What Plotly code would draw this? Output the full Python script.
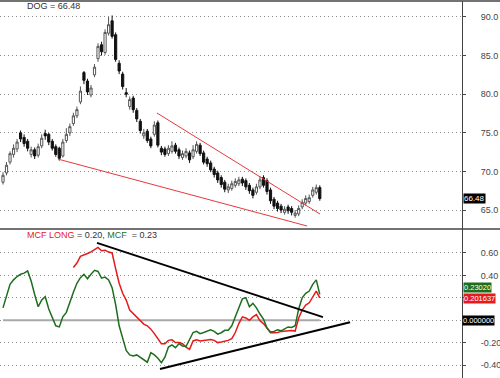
import plotly.graph_objects as go

# ---- price data (DOG) ----
opens = [68.6, 69.8, 71.2, 72.2, 72.9, 75.0, 74.4, 73.9, 72.2, 72.8,
         72.1, 73.3, 74.9, 74.8, 73.9, 73.2, 73.0, 72.0, 74.0, 75.0,
         76.2, 77.2, 79.0, 82.8, 81.7, 79.9, 82.5, 84.6, 86.4, 85.4,
         87.9, 89.5, 87.7, 84.0, 82.6, 80.2, 78.4, 79.5, 77.9, 76.5,
         74.6, 75.2, 74.2, 74.8, 76.3, 73.0, 72.9, 72.3, 72.6, 73.4,
         72.8, 71.8, 72.0, 72.4, 71.9, 72.6, 73.4, 72.4, 71.6, 71.1,
         70.3, 69.8, 69.2, 68.6, 67.6, 67.8, 68.2, 68.4, 69.0, 68.8,
         68.2, 67.6, 67.3, 68.0, 69.2, 68.8, 67.6, 66.4, 65.9, 65.5,
         64.7, 65.4, 65.2, 64.3, 64.5, 65.4, 65.9, 66.1, 66.9, 67.3, 67.9]
closes = [69.5, 70.8, 72.3, 73.0, 73.8, 74.2, 73.6, 73.0, 72.8, 72.0,
          73.2, 74.3, 74.6, 73.8, 73.0, 72.2, 71.7, 73.8, 74.8, 75.8,
          77.2, 78.0, 80.4, 81.8, 80.3, 80.8, 83.5, 86.2, 85.5, 88.0,
          89.0, 87.5, 84.5, 83.0, 81.0, 80.0, 79.3, 78.0, 76.8, 75.3,
          75.0, 74.0, 73.3, 76.0, 73.4, 72.5, 72.2, 73.0, 73.3, 72.6,
          72.0, 72.3, 72.6, 71.5, 72.8, 73.5, 72.3, 71.2, 71.0, 70.2,
          69.6, 68.9, 68.3, 67.7, 68.0, 68.4, 68.7, 68.9, 68.5, 68.0,
          67.5, 66.9, 68.0, 68.9, 68.2, 67.4, 66.2, 65.5, 65.2, 65.0,
          65.1, 64.9, 64.7, 64.6, 65.2, 66.0, 66.5, 66.6, 67.6, 67.9, 66.48]
highs = [69.9, 71.2, 72.6, 73.5, 74.2, 75.3, 74.8, 74.2, 73.2, 73.1,
         73.6, 74.8, 75.4, 75.0, 74.2, 73.5, 73.2, 74.2, 75.6, 76.2,
         77.6, 78.4, 81.0, 83.0, 82.0, 81.2, 83.9, 86.6, 86.8, 88.4,
         90.0, 90.2, 88.0, 84.4, 82.9, 80.8, 79.7, 79.8, 78.2, 76.8,
         75.5, 75.5, 74.5, 76.5, 76.6, 73.3, 73.2, 73.4, 73.9, 73.7,
         73.1, 72.7, 73.0, 72.7, 73.4, 73.9, 73.7, 72.7, 71.9, 71.4,
         70.6, 70.1, 69.5, 68.9, 68.4, 68.8, 69.1, 69.3, 69.3, 69.1,
         68.5, 67.9, 68.4, 69.4, 69.5, 69.1, 67.9, 66.7, 66.2, 65.8,
         65.5, 65.7, 65.5, 65.0, 65.6, 66.4, 66.9, 67.0, 68.0, 68.3, 68.2]
lows = [68.3, 69.5, 70.9, 71.8, 72.5, 73.8, 73.2, 72.6, 71.8, 71.6,
        71.8, 73.0, 74.1, 73.4, 72.7, 71.9, 71.4, 71.8, 73.7, 74.6,
        75.9, 76.9, 78.7, 81.3, 79.9, 79.6, 82.2, 84.2, 85.0, 85.1,
        87.6, 87.2, 84.2, 82.6, 80.6, 79.6, 78.0, 77.6, 76.4, 74.9,
        74.2, 73.7, 73.0, 74.5, 73.1, 72.1, 71.9, 72.0, 72.3, 72.3,
        71.6, 71.5, 71.7, 71.1, 71.6, 72.3, 72.0, 70.9, 70.6, 69.9,
        69.2, 68.5, 67.9, 67.3, 67.2, 67.5, 67.9, 68.1, 68.1, 67.6,
        67.1, 66.5, 67.0, 67.7, 67.9, 67.0, 65.8, 65.1, 64.8, 64.6,
        64.4, 64.5, 64.3, 64.0, 64.2, 65.1, 65.6, 65.8, 66.6, 67.0, 66.2]
bars = list(range(len(closes)))

# ---- indicator data ----
mcf = [0.11, 0.21, 0.32, 0.36, 0.39, 0.41, 0.42, 0.44, 0.35, 0.23,
       0.12, 0.18, 0.21, 0.10, 0.02, -0.05, -0.06, 0.03, 0.07, 0.17,
       0.25, 0.33, 0.38, 0.41, 0.37, 0.41, 0.445, 0.435, 0.375, 0.385,
       0.36, 0.29, 0.14, -0.05, -0.17, -0.27, -0.31, -0.32, -0.31, -0.33,
       -0.35, -0.375, -0.29, -0.31, -0.34, -0.38, -0.33, -0.24, -0.22, -0.245,
       -0.21, -0.23, -0.235, -0.17, -0.11, -0.10, -0.12, -0.11, -0.095, -0.085,
       -0.10, -0.125, -0.112, -0.09, -0.09, -0.05, 0.03, 0.11, 0.19, 0.20,
       0.12, 0.15, 0.11, 0.055, 0.01, -0.07, -0.105, -0.10, -0.085, -0.095,
       -0.08, -0.06, -0.065, -0.05, 0.10, 0.20, 0.24, 0.26, 0.32, 0.36, 0.23]
mcf_long_bars = list(range(20, 91))
mcf_long = [0.47, 0.51, 0.57, 0.58, 0.595, 0.61, 0.63, 0.65, 0.62, 0.625,
            0.608, 0.60, 0.46, 0.33, 0.24, 0.18, 0.09, 0.06, 0.03, -0.006,
            -0.035, -0.05, -0.08, -0.12, -0.17, -0.21, -0.21, -0.18, -0.175, -0.20,
            -0.20, -0.21, -0.24, -0.26, -0.185, -0.175, -0.185, -0.18, -0.173, -0.173,
            -0.18, -0.20, -0.195, -0.188, -0.18, -0.165, -0.11, -0.03, 0.03, 0.02,
            0.00, 0.03, 0.05, -0.006, -0.03, -0.07, -0.112, -0.112, -0.11, -0.10,
            -0.097, -0.093, -0.092, -0.097, 0.02, 0.09, 0.135, 0.155, 0.21, 0.26, 0.20]
zero_bars = [0, 90]
zero_vals = [0, 0]

# trendlines (bar index, value)
price_upper_x = [43.75, 90.06]
price_upper_y = [77.56, 64.48]
price_lower_x = [15.6, 86.4]
price_lower_y = [71.6, 62.93]
ind_upper_x = [26.7, 90.9]
ind_upper_y = [0.69, 0.027]
ind_lower_x = [44.6, 98.6]
ind_lower_y = [-0.436, -0.018]

price_ticks = [65, 70, 75, 80, 85, 90]
price_ticktext = ["65.0", "70.0", "75.0", "80.0", "85.0", "90.0"]
ind_ticks = [0.6, 0.4, 0.2, 0, -0.2, -0.4]
ind_ticktext = ["0.60", "0.40", "", "", "-0.20", "-0.40"]

FONT = "Liberation Sans, Arial, sans-serif"
SPLIT = 0.3952

fig = go.Figure()
fig.add_trace(go.Candlestick(
    x=bars, open=opens, high=highs, low=lows, close=closes,
    increasing=dict(line=dict(color="#555555", width=1), fillcolor="white"),
    decreasing=dict(line=dict(color="#111111", width=1), fillcolor="#111111"),
    xaxis="x", yaxis="y", showlegend=False, hoverinfo="skip"))
fig.add_trace(go.Scatter(x=price_upper_x, y=price_upper_y, mode="lines",
                         line=dict(color="#e8393a", width=1), xaxis="x", yaxis="y", showlegend=False))
fig.add_trace(go.Scatter(x=price_lower_x, y=price_lower_y, mode="lines",
                         line=dict(color="#e8393a", width=1), xaxis="x", yaxis="y", showlegend=False))

fig.add_trace(go.Scatter(x=zero_bars, y=zero_vals, mode="lines",
                         line=dict(color="#a8a8a8", width=2), xaxis="x2", yaxis="y2", showlegend=False))
fig.add_trace(go.Scatter(x=mcf_long_bars, y=mcf_long, mode="lines",
                         line=dict(color="#e8191a", width=1.5), xaxis="x2", yaxis="y2", showlegend=False))
fig.add_trace(go.Scatter(x=bars, y=mcf, mode="lines",
                         line=dict(color="#1f6e1f", width=1.5), xaxis="x2", yaxis="y2", showlegend=False))
fig.add_trace(go.Scatter(x=ind_upper_x, y=ind_upper_y, mode="lines",
                         line=dict(color="black", width=2), xaxis="x2", yaxis="y2", showlegend=False))
fig.add_trace(go.Scatter(x=ind_lower_x, y=ind_lower_y, mode="lines",
                         line=dict(color="black", width=2), xaxis="x2", yaxis="y2", showlegend=False))

xrange = [-0.85, 130.4]
xcommon = dict(range=xrange, showticklabels=False, showgrid=False, zeroline=False,
               showline=False, ticks="", fixedrange=True, automargin=False)
ycommon = dict(side="right", showline=True, linecolor="#444444", linewidth=1,
               ticks="outside", ticklen=3, tickcolor="#444444",
               showgrid=True, gridcolor="#8c8c8c", griddash="1px,3px", gridwidth=1,
               zeroline=False, ticklabelstandoff=13, automargin=False,
               tickfont=dict(family=FONT, size=9, color="#444444"))

fig.update_layout(
    width=500, height=378,
    margin=dict(l=0, r=38, t=1, b=0),
    paper_bgcolor="white", plot_bgcolor="white",
    font=dict(family=FONT),
    boxgap=0.12,
    xaxis=dict(domain=[0, 1], anchor="y", rangeslider=dict(visible=False), **xcommon),
    xaxis2=dict(domain=[0, 1], anchor="y2", matches="x", **xcommon),
    yaxis=dict(domain=[SPLIT, 1], anchor="x", range=[62.54, 92.07],
               tickvals=price_ticks, ticktext=price_ticktext, **ycommon),
    yaxis2=dict(domain=[0, SPLIT], anchor="x2", range=[-0.516, 0.814],
                tickvals=ind_ticks, ticktext=ind_ticktext, **ycommon),
    shapes=[
        dict(type="line", xref="paper", yref="paper", x0=0, x1=1.09, y0=1, y1=1,
             line=dict(color="#444444", width=1.5)),
        dict(type="line", xref="paper", yref="paper", x0=0, x1=1.09, y0=SPLIT, y1=SPLIT,
             line=dict(color="#444444", width=1.5)),
    ],
    annotations=[
        dict(text="DOG = 66.48", xref="paper", yref="paper", x=0.054, y=0.987,
             xanchor="left", yanchor="middle", showarrow=False,
             font=dict(family=FONT, size=9, color="#333333")),
        dict(text="<span style='color:#e8191a'>MCF LONG</span> = 0.20, "
                  "<span style='color:#1f6e1f'>MCF</span>  = 0.23",
             xref="paper", yref="paper", x=0.054, y=0.379,
             xanchor="left", yanchor="middle", showarrow=False,
             font=dict(family=FONT, size=9, color="#333333")),
        dict(text="66.48", xref="paper", yref="y", x=1.002, y=66.48,
             xanchor="left", yanchor="middle", showarrow=False, bgcolor="black",
             borderpad=0, font=dict(family=FONT, size=8, color="white")),
        dict(text="0.23020", xref="paper", yref="y2", x=1.002, y=0.292,
             xanchor="left", yanchor="middle", showarrow=False, bgcolor="#1f6e1f",
             borderpad=0, font=dict(family=FONT, size=7.5, color="white")),
        dict(text="0.201637", xref="paper", yref="y2", x=1.002, y=0.198,
             xanchor="left", yanchor="middle", showarrow=False, bgcolor="#e8191a",
             borderpad=0, font=dict(family=FONT, size=7.5, color="white")),
        dict(text="0.000000", xref="paper", yref="y2", x=1.0, y=0.0,
             xanchor="left", yanchor="middle", showarrow=False, bgcolor="black",
             borderpad=0, font=dict(family=FONT, size=7.5, color="white")),
    ],
)

fig.write_html("out.html", config={"displayModeBar": False},
               post_script="document.body.style.margin='0';document.body.style.overflow='hidden';")
